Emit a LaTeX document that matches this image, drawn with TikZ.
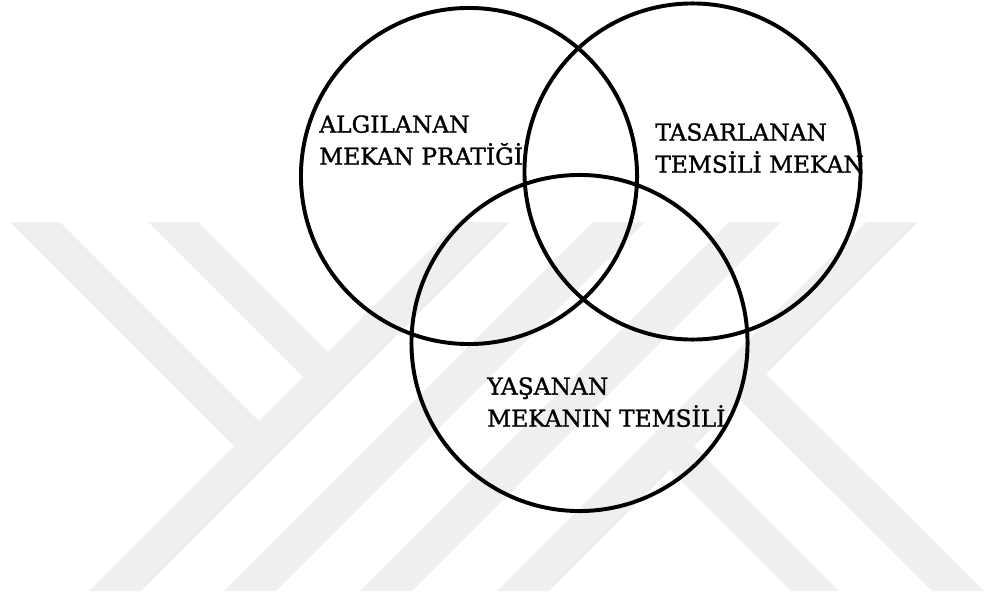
\documentclass[tikz,border=0pt]{standalone}
\usepackage{fontspec}
\setmainfont{DejaVu Serif}[FakeBold=1.2]
\definecolor{wmgray}{RGB}{239,239,239}

\begin{document}
\begin{tikzpicture}[
x=0.025cm, y=-0.025cm,
band/.style={fill=wmgray, draw=none},
ring/.style={circle, draw=black, line width=2.8pt, minimum size=8.4cm, inner sep=0pt},
label/.style={align=left, anchor=north west, inner sep=0pt, font=\fontsize{16.6}{22.8}\selectfont} ]

\useasboundingbox (0,0) rectangle (984,597);

\fill[band] (458,222) -- (510,222) -- (141,591) -- (89,591) -- cycle;

\fill[band] (593,222) -- (645,222) -- (276,591) -- (224,591) -- cycle;

\fill[band] (729,222) -- (781,222) -- (412,591) -- (360,591) -- cycle;

\fill[band] (866,222) -- (918,222) -- (549,591) -- (497,591) -- cycle;

\fill[band] (10,222) -- (60,222) -- (264,426) -- (239,451) -- cycle;

\fill[band] (148,222) -- (198,222) -- (333,357) -- (308,382) -- cycle;

\fill[band] (665,465) -- (689,441) -- (839,591) -- (791,591) -- cycle;

\fill[band] (735,395) -- (761,369) -- (984,591) -- (932,591) -- cycle;

\node[ring](perceived) at (469,176) {};

\node[ring](conceived) at (692.5,171.5) {};

\node[ring](lived) at (579.5,343) {};

\node[label](perceivedtext) at (319,115) {ALGILANAN\\MEKAN PRATİĞİ};

\node[label](conceivedtext) at (655,123) {TASARLANAN\\TEMSİLİ MEKAN};

\node[label](livedtext) at (487,377) {YAŞANAN\\MEKANIN TEMSİLİ};
\end{tikzpicture}
\end{document}
